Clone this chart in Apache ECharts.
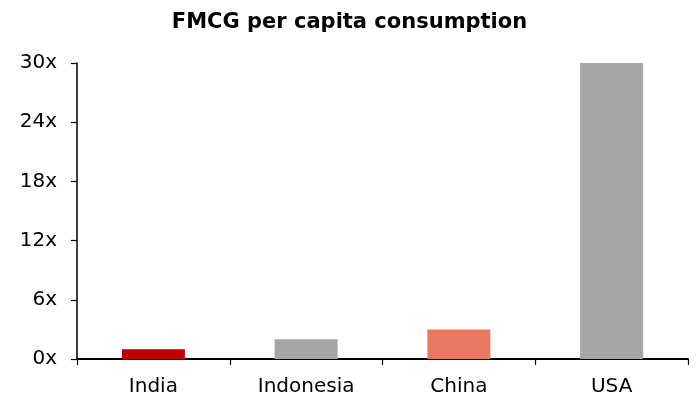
<!DOCTYPE html>
<html>
<head>
<meta charset="utf-8">
<script src="https://cdn.jsdelivr.net/npm/echarts@6/dist/echarts.min.js"></script>
<style>
  html, body { margin: 0; padding: 0; background: #fff; }
  #chart { width: 699px; height: 403px; }
</style>
</head>
<body>
<div id="chart"></div>
<script>
// FMCG per capita consumption, relative to India
const countries = ['India', 'Indonesia', 'China', 'USA'];
const consumption = [1, 2, 3, 30];
const barColors = ['#C00000', '#A6A6A6', '#E97862', '#A6A6A6'];
const yTicks = [0, 6, 12, 18, 24, 30];

const chart = echarts.init(document.getElementById('chart'));
const font = '"DejaVu Sans", "Open Sans", sans-serif';

chart.setOption({
  animation: false,
  title: {
    text: 'FMCG per capita consumption',
    left: 'center',
    top: 7,
    textStyle: { fontFamily: font, fontWeight: 'bold', fontSize: 21, color: '#000' }
  },
  grid: { left: 77, right: 11, top: 63, bottom: 44, containLabel: false },
  xAxis: {
    type: 'category',
    data: countries,
    axisLine: { lineStyle: { color: '#000', width: 1.8 } },
    axisTick: { show: true, length: 6, lineStyle: { color: '#000', width: 1.2 } },
    axisLabel: { color: '#000', fontFamily: font, fontSize: 20, margin: 18 }
  },
  yAxis: {
    type: 'value',
    min: yTicks[0],
    max: yTicks[yTicks.length - 1],
    interval: 6,
    splitLine: { show: false },
    axisLine: { show: true, lineStyle: { color: '#000', width: 1.5 } },
    axisTick: { show: true, length: 6, lineStyle: { color: '#000', width: 1.2 } },
    axisLabel: {
      color: '#000', fontFamily: font, fontSize: 20, margin: 20,
      formatter: v => v + 'x'
    }
  },
  series: [{
    type: 'bar',
    data: consumption.map((v, i) => ({ value: v, itemStyle: { color: barColors[i] } })),
    barWidth: 63
  }]
});
</script>
</body>
</html>
